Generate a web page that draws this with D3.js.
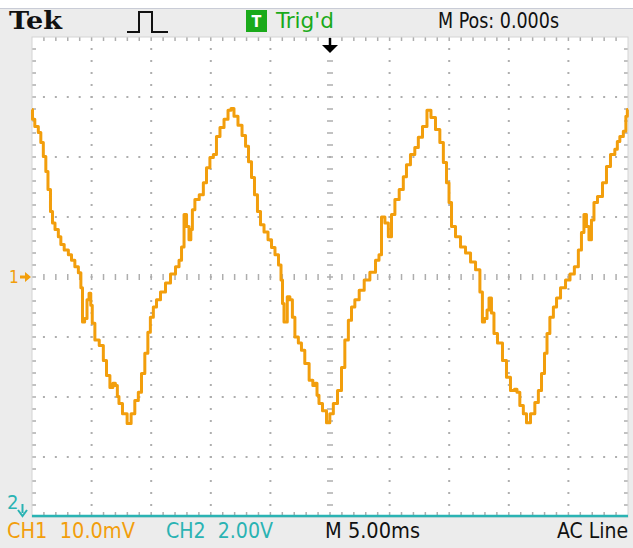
<!DOCTYPE html>
<html>
<head>
<meta charset="utf-8">
<script src="https://cdn.jsdelivr.net/npm/d3@7"></script>
<style>
  html, body { margin: 0; padding: 0; background: #ececec; }
  svg { display: block; }
</style>
</head>
<body>
<div id="scope"></div>
<script>
// CH1 trace, time in ms (M 5.00ms/div) and voltage in mV (10.0mV/div)
const timeMs = [
  0.00, 0.08, 0.39, 0.67, 0.81, 1.09, 1.23, 1.45, 1.65, 1.79, 2.07, 2.35, 2.49, 2.91, 3.19, 3.44, 3.75, 4.03,
  4.17, 4.30, 4.53, 4.70, 4.87, 4.99, 5.12, 5.43, 5.85, 6.12, 6.38, 6.69, 6.88, 7.11, 7.21, 7.38, 7.80, 8.16,
  8.47, 8.78, 9.06, 9.31, 9.62, 9.82, 10.04, 10.32, 10.57, 10.99, 11.41, 11.83, 12.25, 12.42, 12.67, 12.84,
  13.09, 13.25, 13.40, 13.51, 13.82, 14.24, 14.51, 14.77, 15.08, 15.35, 15.60, 15.94, 16.28, 16.61, 16.78,
  17.11, 17.45, 17.79, 18.04, 18.29, 18.54, 18.79, 19.04, 19.30, 19.63, 19.97, 20.22, 20.55, 20.81, 20.97,
  21.06, 21.22, 21.35, 21.48, 21.79, 21.90, 22.21, 22.48, 22.73, 23.04, 23.46, 23.66, 23.83, 23.99, 24.16,
  24.58, 24.83, 25.14, 25.42, 25.84, 26.09, 26.40, 26.68, 26.93, 27.24, 27.66, 28.08, 28.61, 29.03, 29.19,
  29.45, 29.76, 30.03, 30.29, 30.60, 31.01, 31.29, 31.54, 31.96, 32.27, 32.55, 32.97, 33.30,
  33.64, 34.06, 34.37, 34.65, 34.90, 35.07, 35.32, 35.74, 36.16, 36.58, 37.00, 37.42, 37.73, 37.84, 38.09,
  38.26, 38.42, 38.67, 38.84, 39.26, 39.68, 39.93, 40.35, 40.60, 40.77, 41.08, 41.36, 41.61, 42.03, 42.34,
  42.62, 42.87, 43.12, 43.29, 43.60, 43.88, 44.13, 44.55, 44.97, 45.30, 45.70, 45.97, 46.22, 46.39, 46.64,
  46.81, 47.06, 47.23, 47.65, 48.07, 48.32, 48.74, 49.05, 49.16, 49.47, 49.75, 49.89, 50.00
];
const ch1mV = [
  27.9, 26.3, 25.1, 24.1, 22.4, 20.1, 17.6, 14.6, 10.9, 9.0, 7.9, 6.7, 5.4, 4.5, 3.7, 2.8, 1.7, 0.7,
  -1.8, -7.5, -6.9, -3.8, -2.7, -4.7, -7.7, -10.5, -11.4, -13.9, -16.4, -18.4, -17.7, -18.1, -19.9, -21.1, -22.8, -24.4,
  -22.8, -20.6, -19.2, -16.1, -12.7, -9.2, -6.7, -5.0, -3.8, -2.5, -1.0, 0.5, 1.7, 2.8, 5.0, 10.4,
  8.4, 6.2, 7.9, 11.2, 12.9, 13.7, 15.7, 18.2, 19.9, 20.4, 23.4, 24.9, 26.3, 27.8, 28.1,
  26.8, 25.3, 23.6, 21.8, 19.2, 16.6, 13.7, 10.9, 8.7, 7.5, 6.2, 4.9, 3.7, 2.0, -0.5,
  -4.4, -7.5, -7.5, -3.3, -3.8, -6.7, -10.0, -11.0, -12.2, -14.4, -17.2, -18.1, -17.7, -19.7, -21.1,
  -22.3, -24.3, -22.8, -21.1, -18.9, -15.1, -10.5, -7.2, -5.0, -3.8, -2.2, -0.5, 0.8, 2.8, 3.7,
  10.0, 9.0, 6.7, 10.4, 12.9, 14.6, 16.7, 18.7, 20.4, 21.6, 23.3, 25.1, 27.8,
  26.6, 24.6, 22.4, 19.1, 15.7, 12.4, 8.4, 6.7, 5.0, 4.0, 2.5, 1.2, -2.5, -7.5, -6.9,
  -5.5, -3.5, -6.0, -9.4, -11.0, -13.9, -16.7, -18.9, -18.7, -19.2, -21.4, -22.8, -24.3, -22.8, -20.9,
  -18.9, -16.1, -12.7, -9.4, -6.7, -5.0, -3.5, -1.8, -0.5, 0.5, 1.7, 4.5, 7.4, 10.4, 8.4,
  6.2, 9.5, 12.4, 13.4, 15.7, 18.4, 20.4, 21.3, 22.6, 23.4, 24.3, 26.8, 27.9
];

const timeDomain = [0, 50];       // 10 divisions x 5 ms
const voltDomain = [-40, 40];     // 8 divisions x 10 mV
const minorTime = 1;              // 5 minor steps per division
const minorVolt = 2;

const topText = { brand: 'Tek', trig: "Trig'd", pos: 'M Pos: 0.000s' };
const bottomText = { ch1: 'CH1  10.0mV', ch2: 'CH2  2.00V', time: 'M 5.00ms', source: 'AC Line' };

const width = 633;
const height = 548;
const plot = { left: 32, right: 628, top: 37, bottom: 517 };
const orange = '#f29e0c';
const cyan = '#2ab3b3';
const gridGrey = '#aeaeae';
const font = "'DejaVu Sans Condensed', 'Liberation Sans Narrow', sans-serif";

const svg = d3
  .select('#scope')
  .append('svg')
  .attr('width', width)
  .attr('height', height);

// frame: white strip on top, grey bars, white screen
svg.append('rect').attr('width', width).attr('height', height).attr('fill', '#ececec');
svg.append('rect').attr('width', width).attr('height', 8).attr('fill', '#ffffff');
svg.append('line')
  .attr('x1', 0).attr('x2', width).attr('y1', 8.5).attr('y2', 8.5)
  .attr('stroke', '#c9ccd6');

const x = d3.scaleLinear().domain(timeDomain).range([plot.left, plot.right]);
const y = d3.scaleLinear().domain(voltDomain).range([plot.bottom, plot.top]);

svg.append('rect')
  .attr('x', x(timeDomain[0]))
  .attr('y', y(voltDomain[1]))
  .attr('width', x(timeDomain[1]) - x(timeDomain[0]))
  .attr('height', y(voltDomain[0]) - y(voltDomain[1]))
  .attr('fill', '#ffffff');

const grid = svg.append('g');
const timeMinors = d3.range(timeDomain[0], timeDomain[1] + 0.001, minorTime);
const voltMinors = d3.range(voltDomain[0], voltDomain[1] + 0.001, minorVolt);
const timeMajors = d3.range(timeDomain[0] + 5, timeDomain[1], 5);
const voltMajors = d3.range(voltDomain[0] + 10, voltDomain[1], 10);

// dotted major grid lines
timeMajors.filter(t => t !== 25).forEach(t => {
  grid.selectAll(null)
    .data(voltMinors.slice(1, -1))
    .enter()
    .append('rect')
    .attr('x', x(t) - 1)
    .attr('y', d => y(d) - 1)
    .attr('width', 2)
    .attr('height', 2)
    .attr('fill', gridGrey);
});
voltMajors.filter(v => v !== 0).forEach(v => {
  grid.selectAll(null)
    .data(timeMinors.slice(1, -1))
    .enter()
    .append('rect')
    .attr('x', d => x(d) - 1)
    .attr('y', y(v) - 1)
    .attr('width', 2)
    .attr('height', 2)
    .attr('fill', gridGrey);
});

// centre axes with minor tick marks
grid.selectAll(null)
  .data(timeMinors.slice(1, -1))
  .enter()
  .append('line')
  .attr('x1', d => x(d)).attr('x2', d => x(d))
  .attr('y1', y(0) - 3).attr('y2', y(0) + 3)
  .attr('stroke', gridGrey).attr('stroke-width', 1.5);
grid.selectAll(null)
  .data(voltMinors.slice(1, -1))
  .enter()
  .append('line')
  .attr('x1', x(25) - 3).attr('x2', x(25) + 3)
  .attr('y1', d => y(d)).attr('y2', d => y(d))
  .attr('stroke', gridGrey).attr('stroke-width', 1.5);

// edge ticks
const edges = grid.append('g').attr('stroke', gridGrey).attr('stroke-width', 1.5);
edges.selectAll(null).data(timeMinors.slice(1, -1)).enter().append('line')
  .attr('x1', d => x(d)).attr('x2', d => x(d))
  .attr('y1', y(voltDomain[1])).attr('y2', y(voltDomain[1]) + 4);
edges.selectAll(null).data(timeMinors.slice(1, -1)).enter().append('line')
  .attr('x1', d => x(d)).attr('x2', d => x(d))
  .attr('y1', y(voltDomain[0]) - 5).attr('y2', y(voltDomain[0]));
edges.selectAll(null).data(voltMinors.slice(1, -1)).enter().append('line')
  .attr('x1', x(timeDomain[0])).attr('x2', x(timeDomain[0]) + 4)
  .attr('y1', d => y(d)).attr('y2', d => y(d));
edges.selectAll(null).data(voltMinors.slice(1, -1)).enter().append('line')
  .attr('x1', x(timeDomain[1]) - 4).attr('x2', x(timeDomain[1]))
  .attr('y1', d => y(d)).attr('y2', d => y(d));
svg.append('rect')
  .attr('x', x(timeDomain[0]))
  .attr('y', y(voltDomain[1]))
  .attr('width', x(timeDomain[1]) - x(timeDomain[0]))
  .attr('height', y(voltDomain[0]) - y(voltDomain[1]))
  .attr('fill', 'none')
  .attr('stroke', '#d4d4d4');

// CH2 trace sits at the bottom of the screen
svg.append('line')
  .attr('x1', x(timeDomain[0])).attr('x2', x(timeDomain[1]))
  .attr('y1', y(voltDomain[0]) - 1).attr('y2', y(voltDomain[0]) - 1)
  .attr('stroke', cyan).attr('stroke-width', 2.5);

// CH1 trace, drawn as a stepped (sampled) waveform
const line = d3.line()
  .curve(d3.curveStep)
  .x(d => x(d[0]))
  .y(d => y(d[1]));
svg.append('path')
  .datum(d3.zip(timeMs, ch1mV))
  .attr('d', line)
  .attr('fill', 'none')
  .attr('stroke', orange)
  .attr('stroke-width', 3)
  .attr('stroke-linejoin', 'round');

// trigger position arrow
const tx = x(25);
svg.append('line')
  .attr('x1', tx).attr('x2', tx).attr('y1', plot.top + 1).attr('y2', plot.top + 9)
  .attr('stroke', '#000').attr('stroke-width', 2.5);
svg.append('path')
  .attr('d', `M${tx - 8},${plot.top + 8} L${tx + 8},${plot.top + 8} L${tx},${plot.top + 16} Z`)
  .attr('fill', '#000');

// channel ground markers
svg.append('text')
  .text('1')
  .attr('x', 9).attr('y', y(0) + 6)
  .attr('font-family', font).attr('font-size', 17)
  .attr('fill', orange);
svg.append('path')
  .attr('d', `M20,${y(0) - 1.5} H25 V${y(0) - 5} L31,${y(0)} L25,${y(0) + 5} V${y(0) + 1.5} H20 Z`)
  .attr('fill', orange);
svg.append('text')
  .text('2')
  .attr('x', 7).attr('y', 509)
  .attr('font-family', font).attr('font-size', 20)
  .attr('fill', cyan);
svg.append('path')
  .attr('d', 'M22.5,504 V513 M18,510 L22.5,516 L27,510')
  .attr('fill', 'none')
  .attr('stroke', cyan).attr('stroke-width', 2);

// top status bar
svg.append('text')
  .text(topText.brand)
  .attr('x', 9).attr('y', 29)
  .attr('font-family', "'DejaVu Serif', 'Liberation Serif', serif")
  .attr('font-weight', 'bold')
  .attr('font-size', 25)
  .attr('textLength', 53)
  .attr('lengthAdjust', 'spacingAndGlyphs')
  .attr('fill', '#111');
svg.append('path')
  .attr('d', 'M127,32 H139 V12 H152 V32 H168')
  .attr('fill', 'none')
  .attr('stroke', '#111')
  .attr('stroke-width', 2);
svg.append('rect')
  .attr('x', 246).attr('y', 10).attr('width', 21).attr('height', 22)
  .attr('fill', '#1aaa1a');
svg.append('text')
  .text('T')
  .attr('x', 256.5).attr('y', 27)
  .attr('text-anchor', 'middle')
  .attr('font-family', font).attr('font-weight', 'bold').attr('font-size', 16)
  .attr('fill', '#ffffff');
svg.append('text')
  .text(topText.trig)
  .attr('x', 276).attr('y', 28)
  .attr('font-family', font).attr('font-size', 21)
  .attr('textLength', 58).attr('lengthAdjust', 'spacingAndGlyphs')
  .attr('fill', '#1aaa1a');
svg.append('text')
  .text(topText.pos)
  .attr('x', 438).attr('y', 28)
  .attr('font-family', font).attr('font-size', 21)
  .attr('textLength', 121).attr('lengthAdjust', 'spacingAndGlyphs')
  .attr('fill', '#111');

// bottom status bar
const bottom = [
  { text: bottomText.ch1, x: 7, len: 128, colour: orange },
  { text: bottomText.ch2, x: 166, len: 107, colour: cyan },
  { text: bottomText.time, x: 325, len: 95, colour: '#111' },
  { text: bottomText.source, x: 557, len: 71, colour: '#111' }
];
svg.selectAll(null)
  .data(bottom)
  .enter()
  .append('text')
  .text(d => d.text)
  .attr('x', d => d.x)
  .attr('y', 538)
  .attr('font-family', font)
  .attr('font-size', 21)
  .attr('textLength', d => d.len)
  .attr('lengthAdjust', 'spacingAndGlyphs')
  .attr('xml:space', 'preserve')
  .style('white-space', 'pre')
  .attr('fill', d => d.colour);
</script>
</body>
</html>
